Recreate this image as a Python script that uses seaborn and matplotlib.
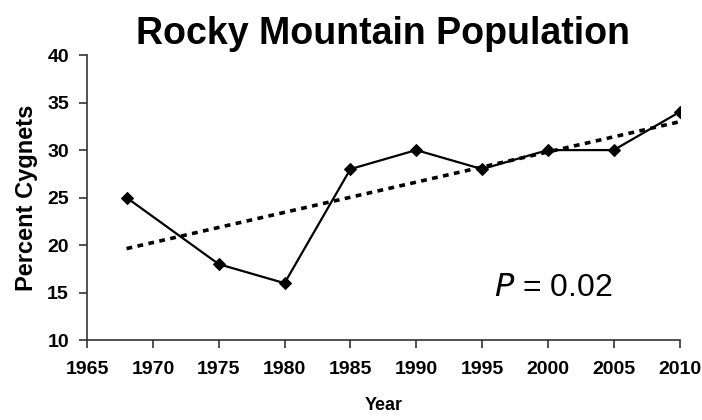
import numpy as np
import pandas as pd
import matplotlib
matplotlib.use("Agg")
import matplotlib.pyplot as plt
import seaborn as sns

# Datos
years = [1968, 1975, 1980, 1985, 1990, 1995, 2000, 2005, 2010]
cygnets = [25, 18, 16, 28, 30, 28, 30, 30, 34]
x_ticks = [1965, 1970, 1975, 1980, 1985, 1990, 1995, 2000, 2005, 2010]
y_ticks = [10, 15, 20, 25, 30, 35, 40]

df = pd.DataFrame({"Year": years, "Percent": cygnets})

sns.set_style("ticks")
plt.rcParams["font.family"] = ["Liberation Sans", "DejaVu Sans"]
plt.rcParams["text.color"] = "black"
plt.rcParams["axes.labelcolor"] = "black"
plt.rcParams["xtick.color"] = "black"
plt.rcParams["ytick.color"] = "black"

fig = plt.figure(figsize=(7.02, 4.2), dpi=100)
ax = fig.add_axes([0.124, 0.19, 0.844, 0.679])

# Línea de tendencia (ajuste lineal)
sns.regplot(x="Year", y="Percent", data=df, scatter=False, ci=None, ax=ax,
            color="black", line_kws={"linestyle": (0, (1.6, 1.5)), "linewidth": 2.6})

# Serie observada
sns.lineplot(x="Year", y="Percent", data=df, ax=ax, color="black", linewidth=1.6,
             marker="D", markersize=6, markeredgecolor="black")

ax.set_xlim(1965, 2010)
ax.set_ylim(10, 40)
ax.set_xticks(x_ticks)
ax.set_yticks(y_ticks)
ax.set_xticklabels([str(t) for t in x_ticks], fontsize=14, fontweight="bold")
ax.set_yticklabels([str(t) for t in y_ticks], fontsize=14, fontweight="bold")
ax.tick_params(axis="both", length=6, width=1.2, color="#333333")
ax.tick_params(axis="x", pad=9)
ax.tick_params(axis="y", pad=7)

ax.set_xlabel("Year", fontsize=13, fontweight="bold", labelpad=14)
ax.set_ylabel("Percent Cygnets", fontsize=17, fontweight="bold", labelpad=7)
ax.set_title("Rocky Mountain Population", fontsize=27, fontweight="bold", pad=8)

for s in ["left", "bottom"]:
    ax.spines[s].set_linewidth(1.2)
    ax.spines[s].set_color("#333333")
sns.despine(ax=ax)

ax.text(1995.9, 15.5, r"$\it{P}$ = 0.02", fontsize=23, va="center", ha="left")

fig.savefig("out.png", dpi=100)
